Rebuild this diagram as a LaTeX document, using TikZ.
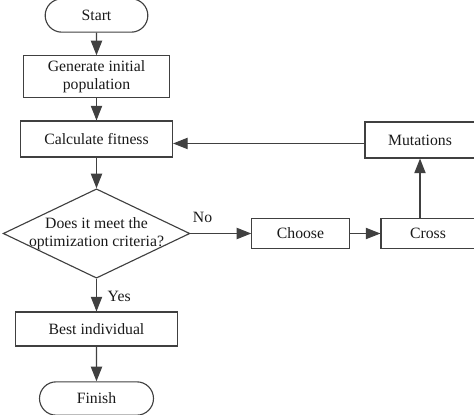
\documentclass[tikz,border=0pt]{standalone}
\usepackage{fontspec}
\setmainfont{Liberation Serif}
\usepackage{tikz}
\usetikzlibrary{arrows.meta}
\usetikzlibrary{shapes.geometric}
\usetikzlibrary{shapes.misc}
\tikzset{
    tnode/.style = {align=center, inner sep=0pt, text centered, text=black!90, font=\fontsize{11.8}{13.5}\selectfont},
    proc_node/.style = {tnode, rectangle, draw=black!75, line width=0.85pt},
    term_node/.style = {tnode, rounded rectangle, draw=black!75, line width=0.85pt},
    dec_node/.style = {tnode, diamond, draw=black!75, line width=0.85pt},
    flow/.style = {->, draw=black!75, line width=0.85pt}
}

\begin{document}
\begin{tikzpicture}[x=0.75pt, y=-0.75pt, >={Triangle[length=11pt, width=8.5pt]}]
    \useasboundingbox (0,0) rectangle (474,414);
    \clip (0,0) rectangle (474,414);
    % main column
    \node [term_node, minimum width=77pt, minimum height=25pt] (start) at (96.5,15.5) {Start};
    \node [proc_node, minimum width=109pt, minimum height=31pt] (init) at (96.5,76.5) {Generate initial\\population};
    \node [proc_node, minimum width=114pt, minimum height=27pt] (calc) at (96.5,139) {Calculate fitness};
    \node [dec_node, minimum width=140pt, minimum height=67pt] (check) at (96.5,233.5) {};
    \node [tnode] (check_text) at (check) {Does it meet the\\optimization criteria?};
    \node [proc_node, minimum width=122pt, minimum height=25.5pt] (best) at (96.5,329) {Best individual};
    \node [term_node, minimum width=85.5pt, minimum height=25pt] (finish) at (96.5,398.5) {Finish};
    % loop
    \node [proc_node, minimum width=73pt, minimum height=23pt] (choose) at (300.5,233.5) {Choose};
    \node [proc_node, minimum width=70.5pt, minimum height=23pt] (cross) at (428,233.5) {Cross};
    \node [proc_node, minimum width=82.5pt, minimum height=27pt] (mut) at (420,140) {Mutations};

    \draw [flow] (start) -- (init);
    \draw [flow] (init) -- (calc);
    \draw [flow] (calc) -- (check);
    \draw [flow] (check.south) -- node [tnode, pos=0.53, right=8pt] (yes_lbl) {Yes} (best.north);
    \draw [flow] (best) -- (finish);
    \draw [flow] (check.east) -- node [tnode, pos=0.2, above=8pt] (no_lbl) {No} (choose.west);
    \draw [flow] (choose) -- (cross);
    \draw [flow] (cross.north -| mut.south) -- (mut.south);
    \draw [flow] ([yshift=-2.6pt]mut.west) -- ([yshift=-2.6pt]mut.west -| calc.east);
\end{tikzpicture}
\end{document}
